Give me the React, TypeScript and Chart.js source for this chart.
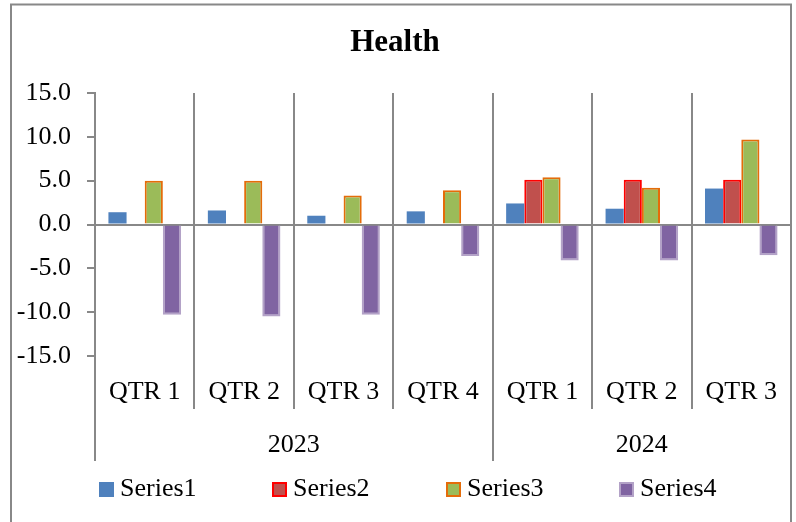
import React, { useEffect, useRef } from "react";
import { Chart, registerables } from "chart.js";

Chart.register(...registerables);

const title = "Health";
const quarters = ["QTR 1", "QTR 2", "QTR 3", "QTR 4", "QTR 1", "QTR 2", "QTR 3"];
const years = ["2023", "2024"];
const yearSpans = [4, 3];
const seriesNames = ["Series1", "Series2", "Series3", "Series4"];
const series1 = [1.4, 1.6, 1.0, 1.5, 2.4, 1.8, 4.1];
const series2 = [null, null, null, null, 5.1, 5.1, 5.1];
const series3 = [5.0, 5.0, 3.3, 3.9, 5.4, 4.2, 9.7];
const series4 = [-10.3, -10.5, -10.3, -3.6, -4.1, -4.1, -3.5];
const fills = ["#4F81BD", "#C0504D", "#9BBB59", "#8064A2"];
const borders = ["#4F81BD", "#FF0000", "#E46C0A", "#B3A2C7"];

const FONT = "'Liberation Serif', 'Times New Roman', serif";
const GRID = "#888888";

const decorPlugin = {
  id: "decor",
  afterDraw(chart: any) {
    const ctx = chart.ctx;
    const x = chart.scales.x;
    const area = chart.chartArea;
    ctx.save();
    // outer border
    ctx.strokeStyle = GRID;
    ctx.lineWidth = 2;
    ctx.strokeRect(11, 4.5, 780, 530);
    // title
    ctx.fillStyle = "#000";
    ctx.font = `bold 31px ${FONT}`;
    ctx.textAlign = "center";
    ctx.textBaseline = "middle";
    ctx.fillText(title, 395, 43);
    // category boundaries
    const n = quarters.length;
    const step = (area.right - area.left) / n;
    const bound = (i: number) => x.getPixelForValue(i) - step / 2;
    // quarter labels
    ctx.font = `26px ${FONT}`;
    quarters.forEach((q, i) => {
      ctx.fillText(q, x.getPixelForValue(i), 392);
    });
    // year separators and labels
    ctx.strokeStyle = GRID;
    ctx.lineWidth = 2;
    let start = 0;
    years.forEach((y, k) => {
      const end = start + yearSpans[k];
      const l = bound(start);
      const r = end < n ? bound(end) : area.right;
      ctx.beginPath();
      ctx.moveTo(Math.round(l), area.bottom);
      ctx.lineTo(Math.round(l), 461);
      ctx.stroke();
      ctx.fillText(y, (l + r) / 2, 445);
      start = end;
    });
    // legend
    const lx = [99, 272, 446, 619];
    chart.data.datasets.forEach((ds: any, i: number) => {
      const bx = lx[i];
      ctx.fillStyle = ds.backgroundColor;
      ctx.fillRect(bx, 482, 15, 15);
      if (i > 0) {
        ctx.strokeStyle = ds.borderColor;
        ctx.lineWidth = 2;
        ctx.strokeRect(bx + 1, 483, 13, 13);
      }
      ctx.fillStyle = "#000";
      ctx.textAlign = "left";
      ctx.fillText(ds.label, bx + 21, 489);
    });
    ctx.restore();
  },
};

export default function App() {
  const ref = useRef<HTMLCanvasElement>(null);
  useEffect(() => {
    const data = [series1, series2, series3, series4];
    const chart = new Chart(ref.current!, {
      type: "bar",
      data: {
        labels: quarters,
        datasets: seriesNames.map((name, i) => ({
          label: name,
          data: data[i] as any,
          backgroundColor: fills[i],
          borderColor: borders[i],
          borderWidth: i === 0 ? 0 : 2,
          categoryPercentage: 0.73,
          barPercentage: 1.0,
        })),
      },
      options: {
        animation: false,
        responsive: false,
        maintainAspectRatio: false,
        layout: { padding: { top: 93, right: 5, left: 0, bottom: 0 } },
        plugins: { legend: { display: false }, title: { display: false }, tooltip: { enabled: false } },
        scales: {
          x: {
            ticks: { display: false },
            grid: {
              offset: true,
              color: GRID,
              lineWidth: 2,
              drawTicks: true,
              tickLength: 53,
              tickColor: GRID,
            },
            border: { display: false },
            afterFit: (s: any) => {
              s.height = 166;
            },
          },
          y: {
            min: -15,
            max: 15,
            ticks: {
              stepSize: 5,
              color: "#000",
              font: { family: FONT, size: 26 },
              padding: 16,
              callback: (v: any) => Number(v).toFixed(1),
            },
            grid: {
              color: (c: any) => (c.tick && c.tick.value === 0 ? GRID : "rgba(0,0,0,0)"),
              lineWidth: 2,
              tickLength: 8,
              tickColor: GRID,
            },
            border: { display: true, color: GRID, width: 2 },
            afterFit: (s: any) => {
              s.width = 95;
            },
          },
        },
      },
      plugins: [decorPlugin],
    });
    return () => chart.destroy();
  }, []);
  return (
    <div style={{ position: "fixed", left: 0, top: 0, width: 796, height: 522, background: "#fff" }}>
      <canvas ref={ref} width={796} height={522} style={{ width: 796, height: 522, display: "block" }} />
    </div>
  );
}
